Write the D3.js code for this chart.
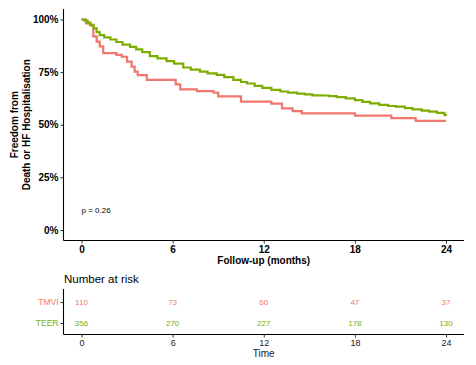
<!DOCTYPE html>
<html>
<head>
<meta charset="utf-8">
<script src="https://cdn.jsdelivr.net/npm/d3@7"></script>
<style>
  body { margin: 0; background: #fff; }
  svg { font-family: "Liberation Sans", Arial, sans-serif; display: block; }
</style>
</head>
<body>
<div id="chart"></div>
<script>
// Kaplan-Meier curves (months, survival)
const tmviTime = [0, 0.3, 0.55, 0.78, 1.0, 1.2, 1.43, 2.3, 2.65, 3.0, 3.3, 3.5, 3.7, 4.3, 6.2, 6.5, 7.6, 8.7, 9.0, 10.5, 12.5, 13.2, 13.9, 14.5, 18.0, 20.4, 22.0, 24];
const tmviSurv = [1.0, 0.982, 0.974, 0.92, 0.895, 0.872, 0.84, 0.832, 0.823, 0.80, 0.776, 0.752, 0.736, 0.713, 0.692, 0.668, 0.66, 0.652, 0.635, 0.610, 0.60, 0.578, 0.565, 0.554, 0.543, 0.531, 0.518, 0.518];

const teerTime = [0, 0.2, 0.4, 0.6, 0.8, 1.0, 1.2, 1.5, 1.9, 2.3, 2.7, 3.2, 3.6, 4.0, 4.5, 5.0, 5.6, 6.1, 6.7, 7.2, 7.8, 8.3, 8.9, 9.4, 10.0, 10.5, 10.9, 11.4, 11.9, 12.5, 13.1, 13.6, 14.2, 14.7, 15.2, 15.8, 16.3, 16.8, 17.4, 18.0, 18.5, 19.0, 19.6, 20.2, 20.7, 21.3, 21.8, 22.4, 22.9, 23.4, 23.9, 24];
const teerSurv = [1.0, 0.995, 0.985, 0.972, 0.958, 0.94, 0.926, 0.915, 0.905, 0.893, 0.881, 0.870, 0.858, 0.845, 0.826, 0.815, 0.802, 0.790, 0.772, 0.762, 0.752, 0.744, 0.737, 0.726, 0.713, 0.703, 0.696, 0.685, 0.675, 0.666, 0.658, 0.653, 0.648, 0.644, 0.640, 0.639, 0.636, 0.631, 0.625, 0.617, 0.609, 0.602, 0.594, 0.589, 0.586, 0.579, 0.573, 0.567, 0.562, 0.556, 0.546, 0.543];

const groups = ["TMVI", "TEER"];
const colors = ["#F0766E", "#7CAE00"];
const xTicks = [0, 6, 12, 18, 24];
const yTicks = [0, 0.25, 0.5, 0.75, 1];
const riskTMVI = [110, 73, 60, 47, 37];
const riskTEER = [356, 270, 227, 178, 130];

const width = 476, height = 365;

const svg = d3.select("#chart").append("svg")
  .attr("width", width)
  .attr("height", height);

const x = d3.scaleLinear().domain([0, 24]).range([81.5, 446]);
const y = d3.scaleLinear().domain([0, 1]).range([230, 19.5]);

const pLeft = 63.5, pRight = 464, pTop = 9, pBottom = 240.5;

// main panel axes
const xAxis = svg.append("g")
  .attr("transform", `translate(0,${pBottom})`)
  .call(d3.axisBottom(x).tickValues(xTicks).tickSize(3).tickPadding(2));
xAxis.select(".domain").attr("d", `M${pLeft},0H${pRight}`);

const yAxis = svg.append("g")
  .attr("transform", `translate(${pLeft},0)`)
  .call(d3.axisLeft(y).tickValues(yTicks).tickSize(3).tickPadding(2).tickFormat(d3.format(".0%")));
yAxis.select(".domain").attr("d", `M0,${pTop}V${pBottom}`);

[xAxis, yAxis].forEach(a => {
  a.select(".domain").attr("stroke", "#000").attr("stroke-width", 1.1);
  a.selectAll(".tick line").attr("stroke", "#333");
  a.selectAll(".tick text").attr("fill", "#000").style("font-size", "10px").style("font-weight", "bold");
});

// axis titles
svg.append("text")
  .attr("x", (pLeft + pRight) / 2).attr("y", 264)
  .attr("text-anchor", "middle")
  .style("font-size", "10px").style("font-weight", "bold")
  .text("Follow-up (months)");

const yt = svg.append("text")
  .attr("transform", `translate(18,${(pTop + pBottom) / 2}) rotate(-90)`)
  .attr("text-anchor", "middle")
  .style("font-size", "10px").style("font-weight", "bold");
yt.append("tspan").attr("x", 0).attr("dy", 0).text("Freedom from");
yt.append("tspan").attr("x", 0).attr("dy", 12).text("Death or HF Hospitalisation");

// curves
const line = d3.line()
  .x(d => x(d[0]))
  .y(d => y(d[1]))
  .curve(d3.curveStepAfter);

const series = [
  d3.zip(tmviTime, tmviSurv),
  d3.zip(teerTime, teerSurv)
];

series.forEach((s, i) => {
  svg.append("path")
    .datum(s)
    .attr("d", line)
    .attr("fill", "none")
    .attr("stroke", colors[i])
    .attr("stroke-width", 2.2);
});

svg.append("text")
  .attr("x", x(0)).attr("y", 213)
  .style("font-size", "8px")
  .text("p = 0.26");

// risk table
const tTop = 289, tBottom = 334.5;
const ty = d3.scalePoint().domain(groups).range([302, 323]);

svg.append("text")
  .attr("x", 64).attr("y", 283)
  .style("font-size", "11.5px")
  .text("Number at risk");

const txAxis = svg.append("g")
  .attr("transform", `translate(0,${tBottom})`)
  .call(d3.axisBottom(x).tickValues(xTicks).tickSize(3).tickPadding(2));
txAxis.select(".domain").attr("d", `M${pLeft},0H${pRight}`);

const tyAxis = svg.append("g")
  .attr("transform", `translate(${pLeft},0)`)
  .call(d3.axisLeft(ty).tickSize(3).tickPadding(2));
tyAxis.select(".domain").attr("d", `M0,${tTop}V${tBottom}`);

[txAxis, tyAxis].forEach(a => {
  a.select(".domain").attr("stroke", "#000").attr("stroke-width", 1.1);
  a.selectAll(".tick line").attr("stroke", "#333");
  a.selectAll(".tick text").style("font-size", "9px").attr("fill", "#222");
});
tyAxis.selectAll(".tick text")
  .style("font-size", "8.5px")
  .attr("fill", (d, i) => colors[i]);

[riskTMVI, riskTEER].forEach((row, i) => {
  svg.append("g").selectAll("text")
    .data(row)
    .join("text")
    .attr("x", (d, j) => x(xTicks[j]))
    .attr("y", ty(groups[i]))
    .attr("dy", "0.35em")
    .attr("text-anchor", "middle")
    .attr("fill", colors[i])
    .style("font-size", "8px")
    .text(d => d);
});

svg.append("text")
  .attr("x", (pLeft + pRight) / 2).attr("y", 357)
  .attr("text-anchor", "middle")
  .style("font-size", "10px")
  .attr("fill", "#222")
  .text("Time");
</script>
</body>
</html>
